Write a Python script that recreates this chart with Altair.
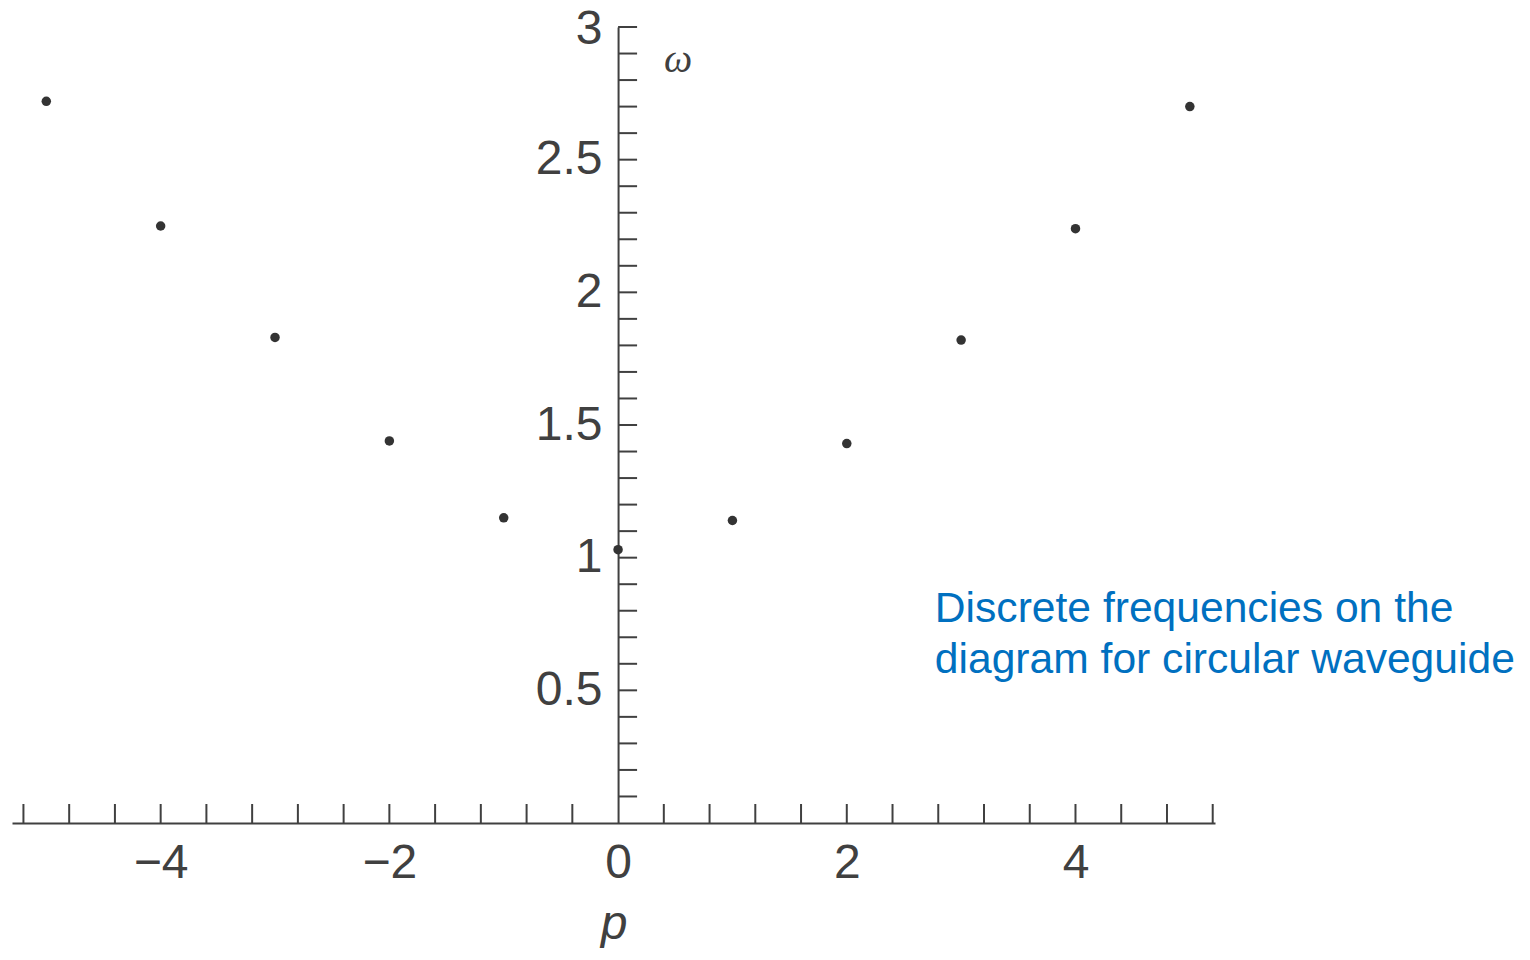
import altair as alt
import pandas as pd

# ---- data ----
P = [-5, -4, -3, -2, -1, 0, 1, 2, 3, 4, 5]
OMEGA = [2.72, 2.25, 1.83, 1.44, 1.15, 1.03, 1.14, 1.43, 1.82, 2.24, 2.70]

X_LABELS = [-4, -2, 0, 2, 4]
Y_LABELS = [0.5, 1, 1.5, 2, 2.5, 3]
X_MINOR = [round(-5.2 + 0.4 * i, 1) for i in range(27) if i != 13]
Y_MINOR = [round(0.1 * i, 1) for i in range(1, 31)]

NOTE_LINES = ["Discrete frequencies on the", "diagram for circular waveguide"]

# ---- layout ----
W, H = 1203, 796
XMIN, XMAX = -5.30, 5.22
YMIN, YMAX = 0, 3
OFF = (0 - XMIN) / (XMAX - XMIN) * W
TICK = 19
INK = "#404040"
FONT = "Liberation Sans"

xs = alt.Scale(domain=[XMIN, XMAX], nice=False, zero=False)
ys = alt.Scale(domain=[YMIN, YMAX], nice=False, zero=False)

x_axis = alt.Axis(values=X_LABELS, format="~g", ticks=False, grid=False,
                  domainColor=INK, domainWidth=2,
                  labelFont=FONT, labelFontSize=48, labelColor=INK,
                  labelPadding=16, labelFlush=False, labelOverlap=False,
                  title="p", titleFont=FONT, titleFontSize=48,
                  titleFontStyle="italic", titleFontWeight="normal",
                  titleColor=INK, titlePadding=13)
y_axis = alt.Axis(values=Y_LABELS, format="~g", ticks=False, grid=False,
                  offset=-OFF, domainColor=INK, domainWidth=2,
                  labelFont=FONT, labelFontSize=48, labelColor=INK,
                  labelPadding=16, labelFlush=False, labelOverlap=False,
                  labelOffset=alt.condition("datum.value == 3", alt.value(2), alt.value(0)),
                  title=None)

pts_df = pd.DataFrame({"p": P, "omega": OMEGA})

points = alt.Chart(pts_df).mark_circle(size=90, color="#333333", opacity=1).encode(
    x=alt.X("p:Q", scale=xs, axis=x_axis),
    y=alt.Y("omega:Q", scale=ys, axis=y_axis),
)

x_ticks = alt.Chart(pd.DataFrame({"t": X_MINOR})).mark_tick(
    orient="vertical", size=TICK, thickness=2, color=INK, yOffset=-TICK / 2, opacity=1
).encode(
    x=alt.X("t:Q", scale=xs, axis=x_axis),
    y=alt.Y(datum=0, type="quantitative", scale=ys, axis=y_axis),
)

y_ticks = alt.Chart(pd.DataFrame({"t": Y_MINOR})).mark_tick(
    orient="horizontal", size=TICK, thickness=2, color=INK, xOffset=TICK / 2, opacity=1
).encode(
    x=alt.X(datum=0, type="quantitative", scale=xs, axis=x_axis),
    y=alt.Y("t:Q", scale=ys, axis=y_axis),
)

omega_label = alt.Chart(pd.DataFrame({"t": ["ω"]})).mark_text(
    font="Liberation Serif", fontStyle="italic", fontSize=40, color=INK,
    dx=60, dy=33, align="center", baseline="middle"
).encode(
    x=alt.X(datum=0, type="quantitative", scale=xs, axis=x_axis),
    y=alt.Y(datum=3, type="quantitative", scale=ys, axis=y_axis),
    text="t:N",
)

note = alt.Chart(pd.DataFrame({"k": [0]})).mark_text(
    font=FONT, fontSize=42.6, color="#0070C0", align="left",
    baseline="alphabetic", lineHeight=51
).encode(
    x=alt.X(datum=2.77, type="quantitative", scale=xs, axis=x_axis),
    y=alt.Y(datum=0.757, type="quantitative", scale=ys, axis=y_axis),
    text=alt.value(NOTE_LINES),
)

chart = alt.layer(points, x_ticks, y_ticks, omega_label, note).properties(
    width=W, height=H,
    padding={"left": 4, "top": 19, "right": 303, "bottom": 125},
    autosize=alt.AutoSizeParams(type="none"),
    background="white",
).configure_view(stroke=None)

chart.save("out.html", embed_options={"renderer": "svg", "actions": False})
